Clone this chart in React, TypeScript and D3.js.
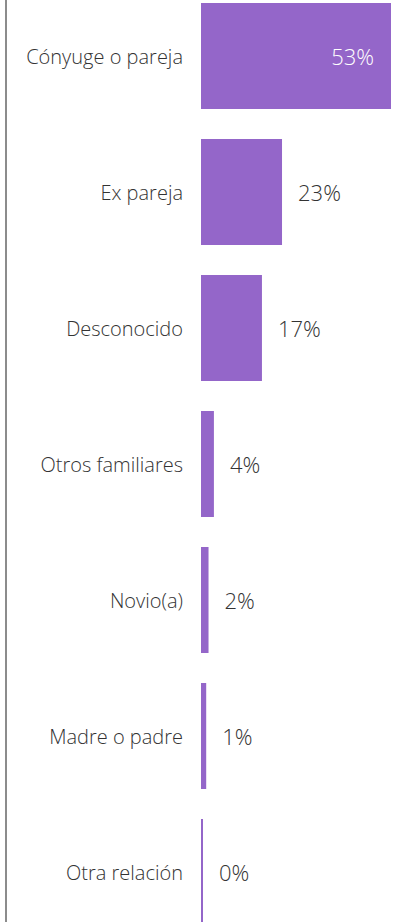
import React from "react";
import * as d3 from "d3";

const categories = [
  "Cónyuge o pareja",
  "Ex pareja",
  "Desconocido",
  "Otros familiares",
  "Novio(a)",
  "Madre o padre",
  "Otra relación",
];
const values = [53, 22.6, 17, 3.6, 2.1, 1.45, 0.4];
const valueLabels = ["53%", "23%", "17%", "4%", "2%", "1%", "0%"];

const W = 403;
const H = 922;
const BAR_COLOR = "#9466c9";
const TEXT_COLOR = "#333333";
const FONT = "'Open Sans', 'Noto Sans', sans-serif";

export default function App() {
  const x = d3.scaleLinear().domain([0, 53]).range([201, 391]);
  const step = 136;
  const bandH = 106;
  const y = d3
    .scaleBand<string>()
    .domain(categories)
    .range([3, 3 + step * categories.length - (step - bandH)])
    .paddingInner((step - bandH) / step)
    .paddingOuter(0);

  return (
    <svg
      width={W}
      height={H}
      style={{ position: "absolute", left: 0, top: 0, background: "#fff" }}
    >
      <line x1={6} x2={6} y1={0} y2={H} stroke="#8c8c8c" strokeWidth={2} />
      {categories.map((c, i) => {
        const v = values[i];
        const y0 = y(c) as number;
        const bw = Math.max(2, x(v) - x(0));
        const cy = y0 + y.bandwidth() / 2;
        const inside = bw > 120;
        return (
          <g key={c}>
            <rect x={x(0)} y={y0} width={bw} height={y.bandwidth()} fill={BAR_COLOR} />
            <text
              x={183}
              y={cy}
              dy="0.4em"
              textAnchor="end"
              fontFamily={FONT}
              fontWeight={300}
              fontSize={20}
              fill={TEXT_COLOR}
            >
              {c}
            </text>
            <text
              x={inside ? x(0) + bw - 17 : x(0) + bw + 16}
              y={cy}
              dy="0.4em"
              textAnchor={inside ? "end" : "start"}
              fontFamily={FONT}
              fontWeight={300}
              fontSize={22}
              fill={inside ? "#ffffff" : TEXT_COLOR}
            >
              {valueLabels[i]}
            </text>
          </g>
        );
      })}
    </svg>
  );
}
